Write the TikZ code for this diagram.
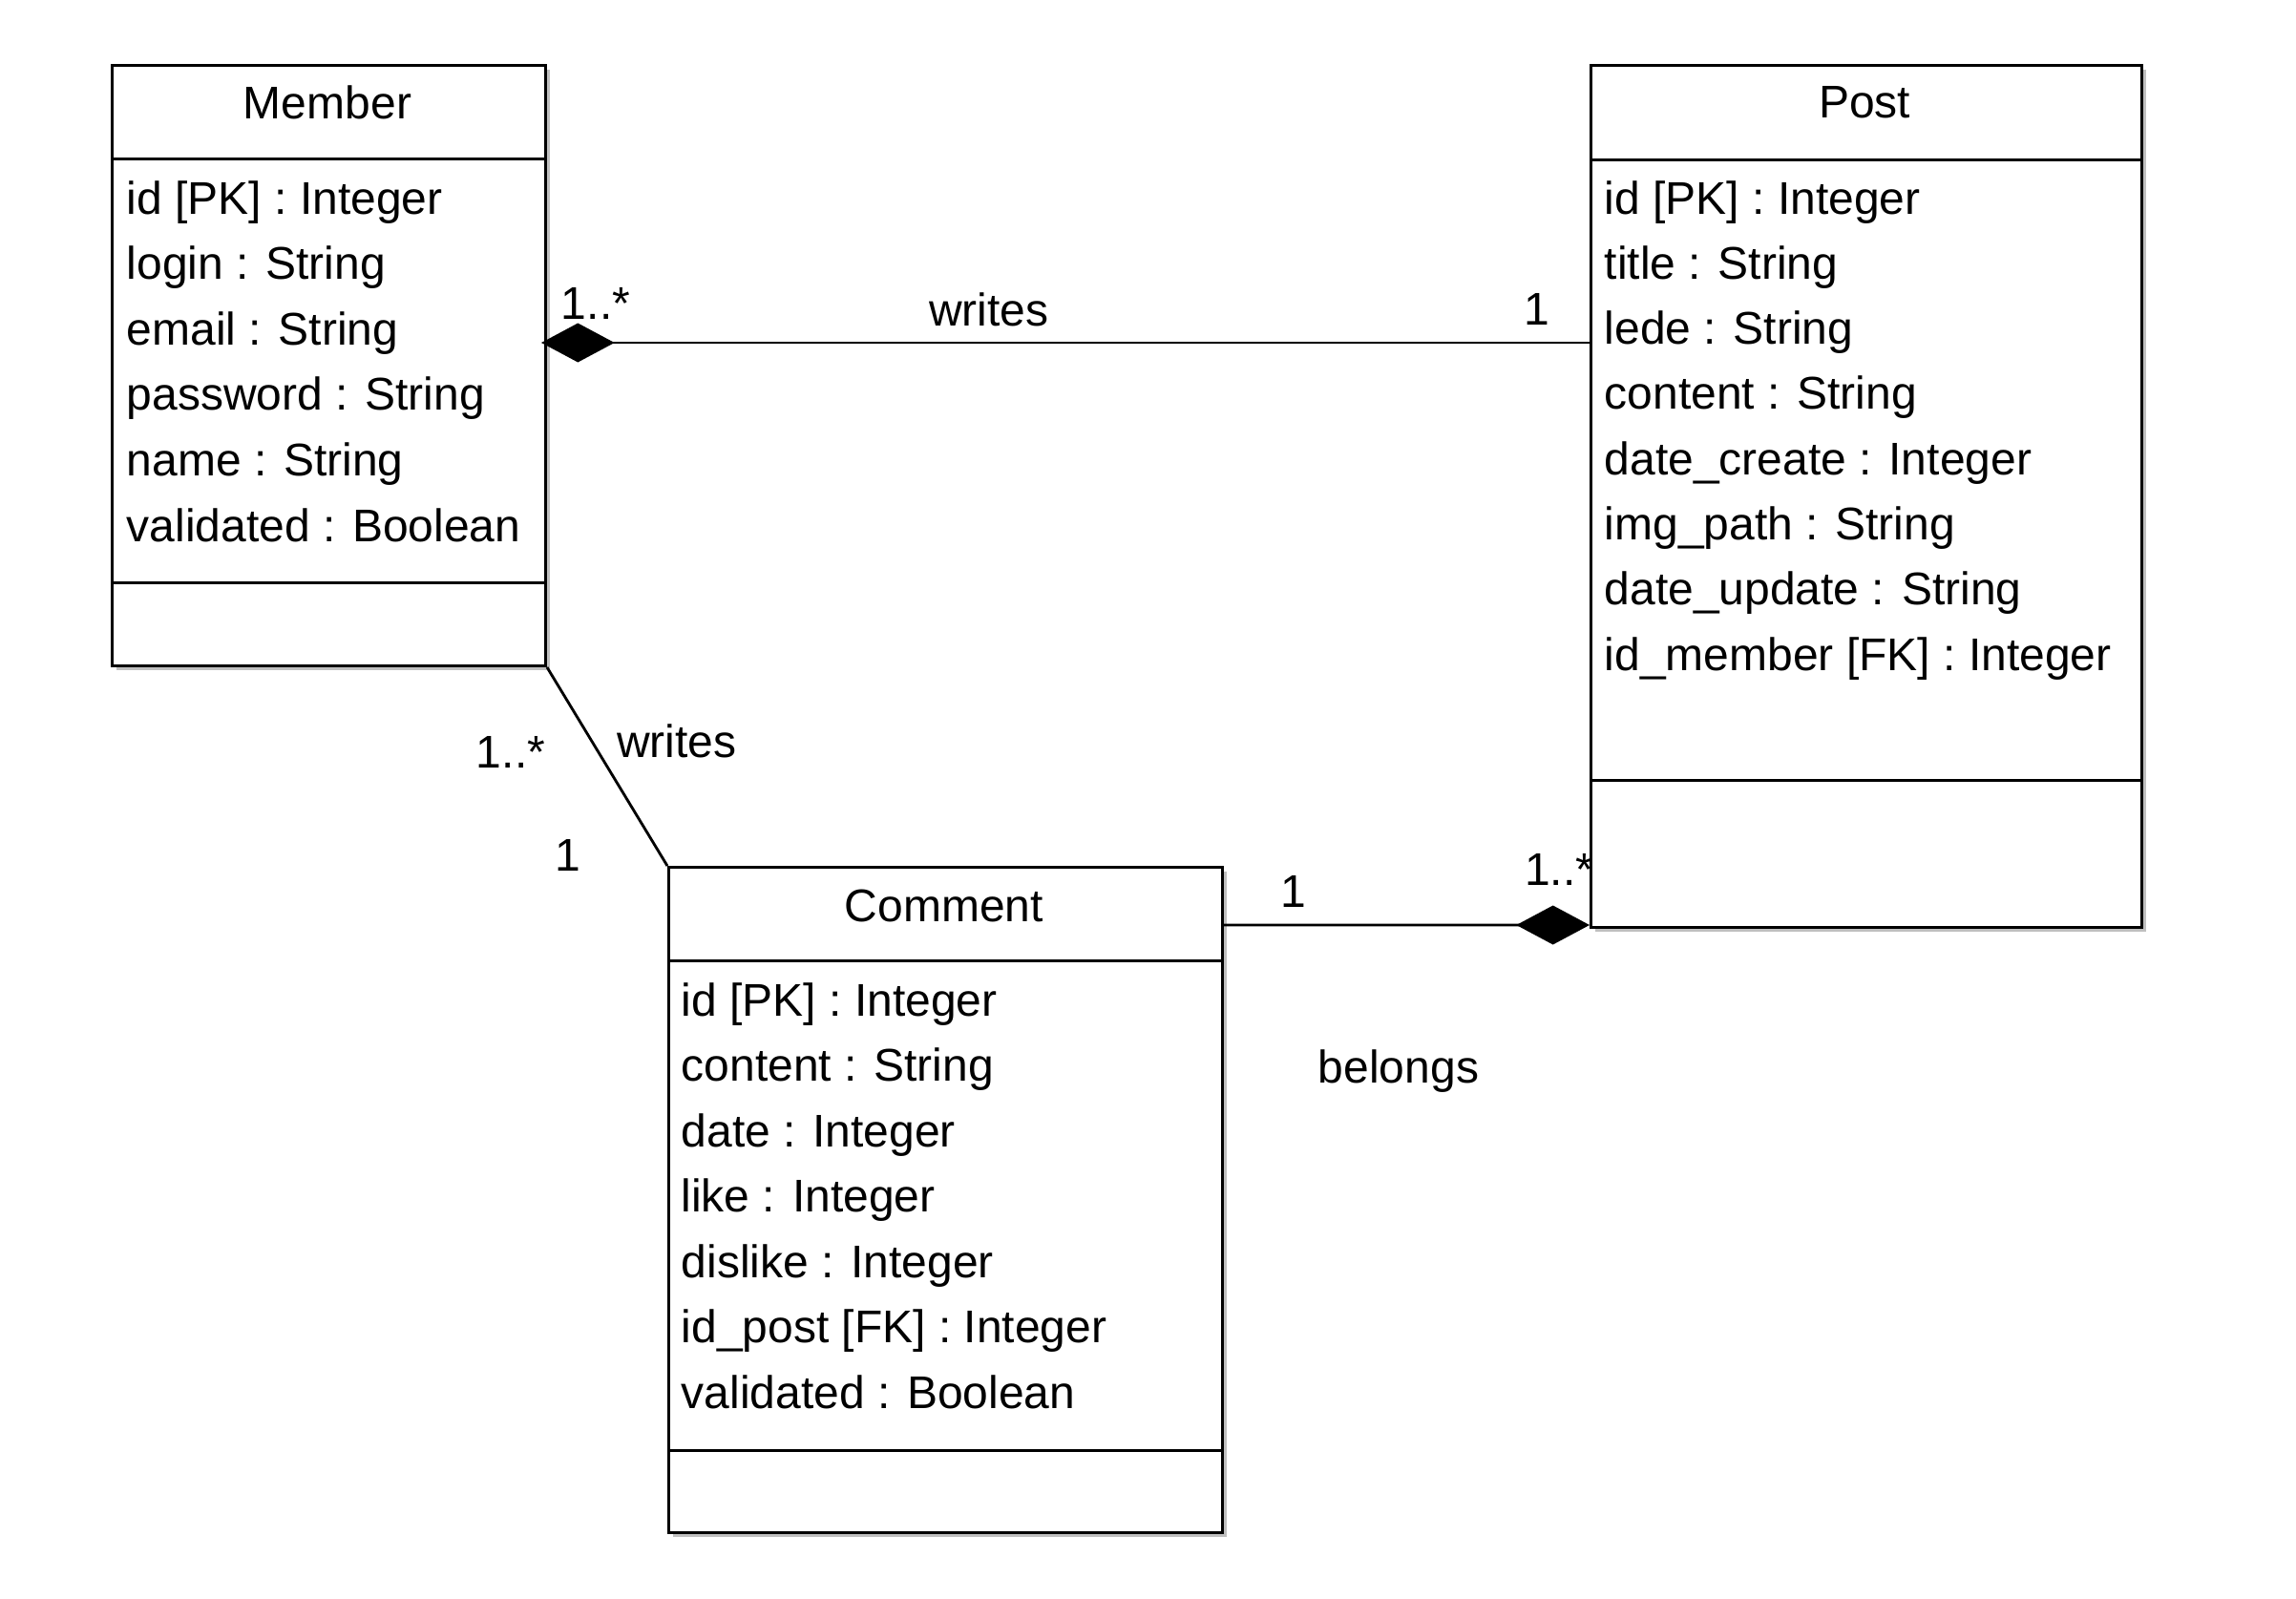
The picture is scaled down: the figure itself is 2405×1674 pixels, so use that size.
\documentclass[tikz,border=0pt]{standalone}
\usepackage{fontspec}
\setmainfont{Liberation Sans}
\usetikzlibrary{arrows.meta,shadows,calc}
\begin{document}
\begin{tikzpicture}[x=0.3pt,y=-0.3pt,
  every node/.style={font=\fontsize{14.4pt}{17pt}\selectfont, inner sep=0pt},
  classbox/.style={draw, line width=0.9pt, fill=white, anchor=north west,
    drop shadow={shadow xshift=1.2pt, shadow yshift=-1.2pt, opacity=0.25, fill=black}},
  divider/.style={line width=0.9pt},
  conn/.style={line width=0.85pt},
  comp/.style={-{Diamond[length=23pt,width=12.3pt]}},
  attr/.style={anchor=base west},
  title/.style={anchor=base},
  lbl/.style={anchor=center}]
\useasboundingbox (0,0) rectangle (2405,1674);

% Member
\node[classbox, minimum width=136.2pt, minimum height=188.7pt] (member) at (116,67) {};
\draw[divider] (member.west |- 0,166) -- (member.east |- 0,166);
\draw[divider] (member.west |- 0,610) -- (member.east |- 0,610);
\node[title] (membertitle) at (343,124) {Member};
\foreach \t [count=\i from 0] in {id [PK] : Integer, login : String, email : String, password : String, name : String, validated : Boolean}
  \node[attr] (ma\i) at (132,224+68.6*\i) {\t};

% Post
\node[classbox, minimum width=173.1pt, minimum height=270.9pt] (post) at (1665,67) {};
\draw[divider] (post.west |- 0,167) -- (post.east |- 0,167);
\draw[divider] (post.west |- 0,817) -- (post.east |- 0,817);
\node[title] (posttitle) at (1953,123) {Post};
\foreach \t [count=\i from 0] in {id [PK] : Integer, title : String, lede : String, content : String, date\_create : Integer, img\_path : String, date\_update : String, id\_member [FK] : Integer}
  \node[attr] (pa\i) at (1680,224+68.3*\i) {\t};

% Comment
\node[classbox, minimum width=174pt, minimum height=209.1pt] (comment) at (699,907) {};
\draw[divider] (comment.west |- 0,1006) -- (comment.east |- 0,1006);
\draw[divider] (comment.west |- 0,1519) -- (comment.east |- 0,1519);
\node[title] (commenttitle) at (989,965) {Comment};
\foreach \t [count=\i from 0] in {id [PK] : Integer, content : String, date : Integer, like : Integer, dislike : Integer, id\_post [FK] : Integer, validated : Boolean}
  \node[attr] (ca\i) at (713,1064+68.5*\i) {\t};

% connectors
\draw[conn, comp] ($(post.north west)+(0,292)$) -- ($(member.north east)+(-6,292)$);
\draw[conn, comp] ($(comment.north east)+(0,62)$) -- ($(post.south west)+(0,-4)$);
\draw[conn] (member.south east) -- (comment.north west);

% labels
\node[lbl] (l1) at (624,318) {1..*};
\node[lbl] (l2) at (1036,324) {writes};
\node[lbl] (l3) at (1610,324) {1};
\node[lbl] (l4) at (535,788) {1..*};
\node[lbl] (l5) at (709,776) {writes};
\node[lbl] (l6) at (595,896) {1};
\node[lbl] (l7) at (1355,934) {1};
\node[lbl] (l8) at (1633,911) {1..*};
\node[lbl] (l9) at (1465,1122) {belongs};
\end{tikzpicture}
\end{document}
